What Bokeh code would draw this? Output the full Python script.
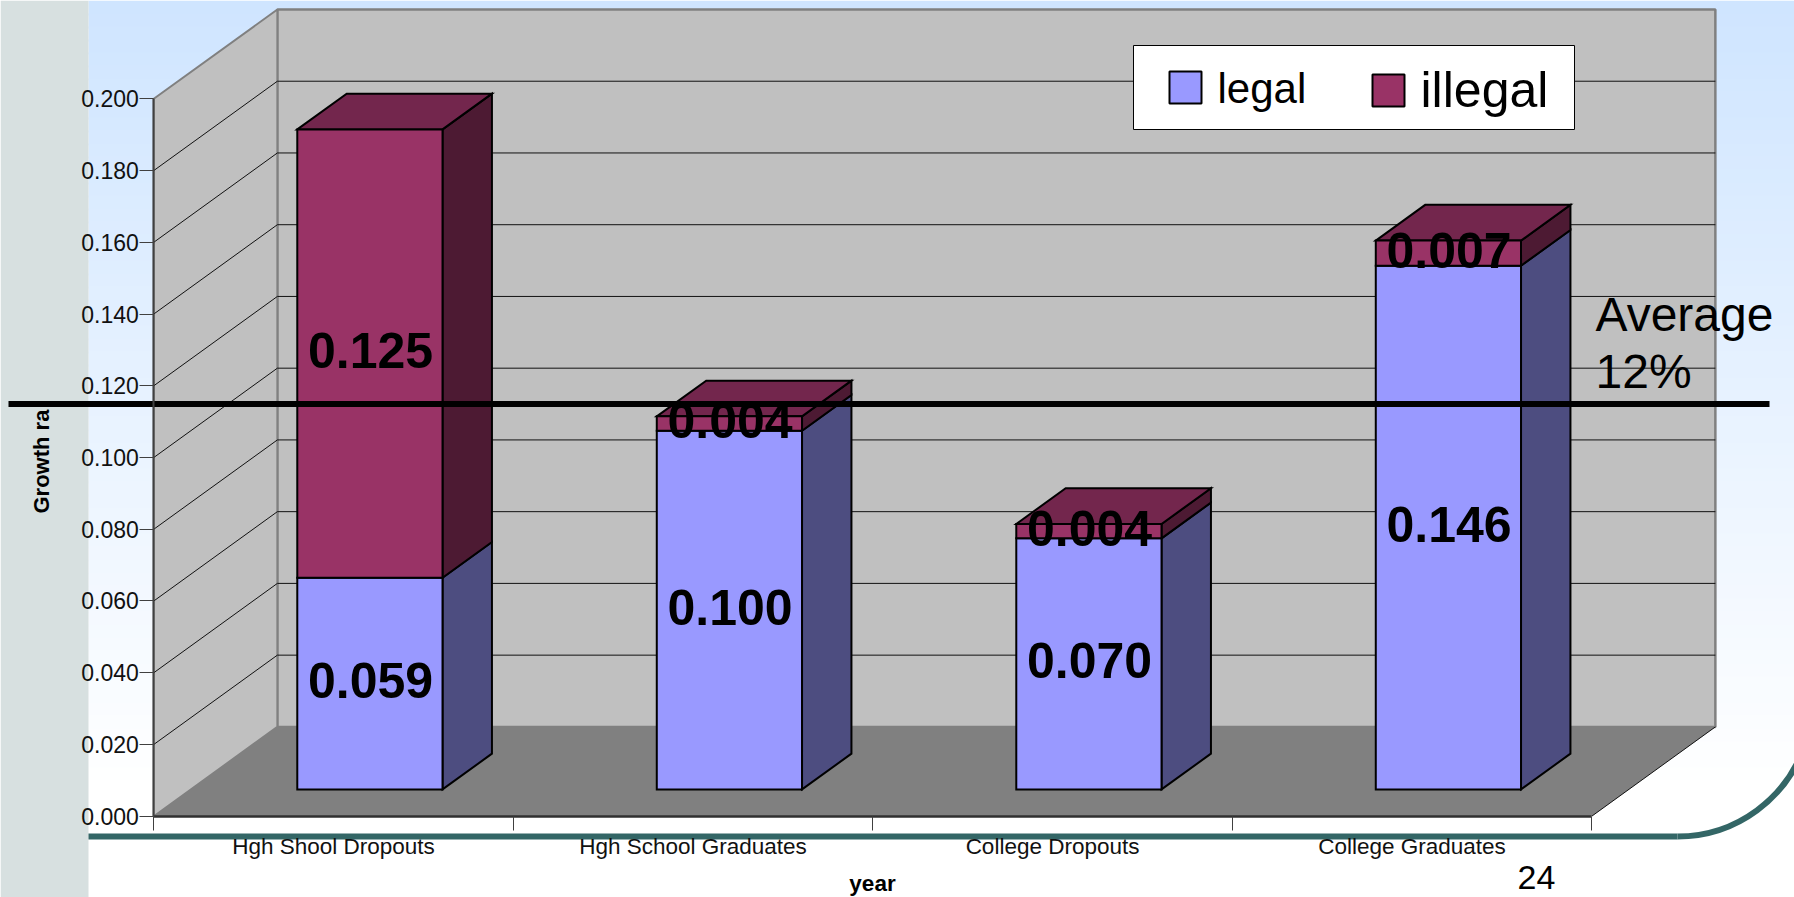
import math

from bokeh.core.properties import value
from bokeh.embed import file_html
from bokeh.models import FixedTicker, LinearAxis, NumeralTickFormatter, Range1d
from bokeh.plotting import figure
from bokeh.resources import INLINE

categories = ["Hgh Shool Dropouts", "Hgh School Graduates", "College Dropouts", "College Graduates"]
legal = [0.059, 0.100, 0.070, 0.146]
illegal = [0.125, 0.004, 0.004, 0.007]
value_ticks = [0.000, 0.020, 0.040, 0.060, 0.080, 0.100, 0.120, 0.140, 0.160, 0.180, 0.200]
average = 0.12

FONT = value("Liberation Sans")
W, H = 1794, 897

# Frame fills the page; the plot scales place the front plane of the chart.
X0, PX_PER_CAT = 153.3, 359.5
Y0, PX_PER_VAL = 815.7, 3587.0

# Oblique projection: depth 0 is the front plane, depth 1 is the back wall.
DX, DY = 0.3437, 0.0249
BAR_LEFT, BAR_RIGHT = 0.296, 0.700
BAR_FRONT, BAR_BACK = 0.30, 0.70


def at(x, v, d):
    return x + d * DX, v + d * DY


def panel(corners):
    xs, ys = zip(*[at(*c) for c in corners])
    return list(xs), list(ys)


p = figure(
    width=W, height=H, output_backend="svg", toolbar_location=None,
    x_axis_type=None, y_axis_type=None, min_border=0,
    x_range=Range1d(-X0 / PX_PER_CAT, (W - X0) / PX_PER_CAT),
    y_range=Range1d(-(H - Y0) / PX_PER_VAL, Y0 / PX_PER_VAL),
    background_fill_color="white", border_fill_color="white", outline_line_color=None,
)
p.grid.visible = False

# Page coordinates for the slide furniture around the chart.
p.extra_x_ranges["page"] = Range1d(0, W)
p.extra_y_ranges["page"] = Range1d(H, 0)
PAGE = dict(x_range_name="page", y_range_name="page")

# Slide backdrop: pale blue fading to white, with a grey strip down the left side.
band = 13
tops = list(range(0, 780, band))
colors = []
for t in tops:
    f = t / 780
    colors.append("#%02x%02x%02x" % (round(207 + 48 * f), round(229 + 26 * f), 255))
for t, c in zip(tops, colors):
    # Each band runs under the next one so no seams show between them.
    p.quad(left=88, right=W, top=t, bottom=t + band + 2, fill_color=c, line_color=None, **PAGE)
p.quad(left=88, right=W, top=780, bottom=H, fill_color="white", line_color=None, **PAGE)
p.quad(left=0, right=88, top=0, bottom=H, fill_color="#d7e0e0", line_color=None, **PAGE)

# Teal rule along the bottom, curling up at the right edge.
p.line([88, 1677], [836, 836], line_color="#336666", line_width=6, **PAGE)
p.arc(x=[1677], y=[836 - 134], radius=value(134, units="screen"), start_angle=-math.pi / 2, end_angle=-0.3,
      direction="anticlock", line_color="#336666", line_width=6, **PAGE)

# Chart walls and floor.
n = len(categories)
top = max(value_ticks)
wall_x, wall_y = panel([(0, 0, 1), (n, 0, 1), (n, top, 1), (0, top, 1)])
p.patch(wall_x, wall_y, fill_color="#c0c0c0", line_color="#808080", line_width=2.5)
wall_x, wall_y = panel([(0, 0, 0), (0, 0, 1), (0, top, 1), (0, top, 0)])
p.patch(wall_x, wall_y, fill_color="#c0c0c0", line_color="#808080", line_width=2)
floor_x, floor_y = panel([(0, 0, 0), (0, 0, 1), (n, 0, 1), (n, 0, 0)])
p.patch(floor_x, floor_y, fill_color="#808080", line_color=None)

# Grid lines run across the back wall and down the side wall.
for v in value_ticks[1:-1]:
    line_x, line_y = panel([(0, v, 0), (0, v, 1), (n, v, 1)])
    p.line(line_x, line_y, line_color="#111111", line_width=1)
line_x, line_y = panel([(n, 0, 0), (n, 0, 1)])
p.line(line_x, line_y, line_color="#111111", line_width=1)

# Stacked boxes: side and top faces first, then the front faces.
front_palette = {"legal": "#9999ff", "illegal": "#993366"}
side_palette = {"legal": "#4d4d80", "illegal": "#4d1a33"}
top_color = "#73264d"
BOX = dict(line_color="black", line_width=2, line_join="miter")

for i in range(n):
    left, right = i + BAR_LEFT, i + BAR_RIGHT
    stack_top = legal[i] + illegal[i]
    for name, v0, v1 in (("legal", 0, legal[i]), ("illegal", legal[i], stack_top)):
        xs, ys = panel([(right, v0, BAR_FRONT), (right, v0, BAR_BACK), (right, v1, BAR_BACK), (right, v1, BAR_FRONT)])
        p.patch(xs, ys, fill_color=side_palette[name], **BOX)
    xs, ys = panel([(left, stack_top, BAR_FRONT), (left, stack_top, BAR_BACK),
                    (right, stack_top, BAR_BACK), (right, stack_top, BAR_FRONT)])
    p.patch(xs, ys, fill_color=top_color, **BOX)

shift_x, shift_y = at(0, 0, BAR_FRONT)
centers = [i + 0.5 + shift_x for i in range(n)]
stack_tops = [a + b for a, b in zip(legal, illegal)]
p.quad(left=[i + BAR_LEFT + shift_x for i in range(n)], right=[i + BAR_RIGHT + shift_x for i in range(n)],
       bottom=[shift_y] * n, top=[v + shift_y for v in legal], fill_color=front_palette["legal"], **BOX)
p.quad(left=[i + BAR_LEFT + shift_x for i in range(n)], right=[i + BAR_RIGHT + shift_x for i in range(n)],
       bottom=[v + shift_y for v in legal], top=[v + shift_y for v in stack_tops],
       fill_color=front_palette["illegal"], **BOX)

# Value labels sit at the middle of each segment.
VALUE_TEXT = dict(text_font=FONT, text_font_style="bold", text_font_size="50px", text_color="black",
                  text_align="center", text_baseline="middle", y_offset=-3)
p.text(centers, [v / 2 + shift_y for v in legal], text=["%.3f" % v for v in legal], **VALUE_TEXT)
p.text(centers, [a + b / 2 + shift_y for a, b in zip(legal, illegal)], text=["%.3f" % v for v in illegal], **VALUE_TEXT)

# Axes on the front plane.
y_axis = LinearAxis(fixed_location=0, ticker=FixedTicker(ticks=value_ticks), bounds=(0, top),
                    formatter=NumeralTickFormatter(format="0.000"), major_tick_in=0, major_tick_out=14,
                    minor_tick_line_color=None, axis_line_color="#404040", axis_line_width=2,
                    major_tick_line_color="#404040", major_label_standoff=1,
                    major_label_text_font="Liberation Sans", major_label_text_font_size="23px",
                    major_label_text_color="#111111")
p.add_layout(y_axis, "left")
x_axis = LinearAxis(fixed_location=0, ticker=FixedTicker(ticks=list(range(n + 1))), major_label_text_alpha=0,
                    bounds=(0, n), major_tick_in=0, major_tick_out=14, minor_tick_line_color=None,
                    axis_line_color="#303030", axis_line_width=2.5, major_tick_line_color="#404040")
p.add_layout(x_axis, "below")
label_axis = LinearAxis(fixed_location=0, ticker=FixedTicker(ticks=[i + 0.5 for i in range(n)]),
                        major_label_overrides={i + 0.5: c for i, c in enumerate(categories)},
                        major_tick_line_color=None, minor_tick_line_color=None, axis_line_color=None,
                        major_tick_out=0, major_tick_in=0, major_label_standoff=18,
                        major_label_text_font="Liberation Sans", major_label_text_font_size="22.5px",
                        major_label_text_color="#111111")
p.add_layout(label_axis, "below")

p.text([872], [883], text=["year"], text_font=FONT, text_font_style="bold", text_font_size="22.5px",
       text_color="black", text_align="center", text_baseline="middle", **PAGE)
p.text([41], [513], text=["Growth ra"], angle=[math.pi / 2], text_font=FONT, text_font_style="bold",
       text_font_size="22px", text_color="black", text_align="left", text_baseline="middle", **PAGE)

# Average marker drawn across the slide, slightly in front of the chart.
avg_x, avg_y = at(0, average, -0.205)
p.line([(8 - X0) / PX_PER_CAT, (1769 - X0) / PX_PER_CAT], [avg_y, avg_y], line_color="black", line_width=6)
NOTE = dict(text_font=FONT, text_color="black", text_align="left", text_baseline="middle", **PAGE)
p.text([1595], [314], text=["Average"], text_font_size="48px", **NOTE)
p.text([1595], [371], text=["%d%%" % round(average * 100)], text_font_size="48px", **NOTE)
p.text([1517], [877], text=["24"], text_font_size="34px", **NOTE)

# Legend box with its two swatches.
p.quad(left=1133, right=1574, top=45, bottom=129, fill_color="white", line_color="black", line_width=1, **PAGE)
swatch_left = [1169, 1372]
swatch_top = [71, 74]
p.quad(left=swatch_left, right=[x + 32 for x in swatch_left], top=swatch_top, bottom=[y + 32 for y in swatch_top],
       fill_color=[front_palette["legal"], front_palette["illegal"]], line_color="black", line_width=2, **PAGE)
p.text([1217], [88], text=["legal"], text_font_size="42px", **NOTE)
p.text([1420], [89], text=["illegal"], text_font_size="50px", **NOTE)

open("out.html", "w").write(file_html(p, INLINE))
